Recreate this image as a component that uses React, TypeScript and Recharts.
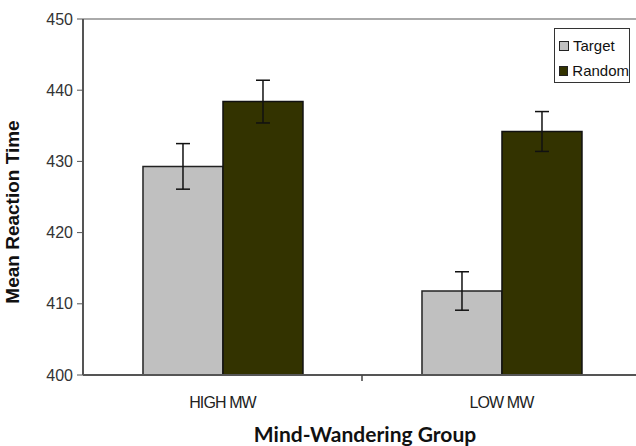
import React from 'react';
import { BarChart, Bar, XAxis, YAxis, ErrorBar, ReferenceLine, Label } from 'recharts';

const GROUPS = ['HIGH MW', 'LOW MW'];
const TARGET = [429.3, 411.8];
const TARGET_ERR = [3.2, 2.7];
const RANDOM = [438.4, 434.2];
const RANDOM_ERR = [3.0, 2.8];
const Y_TICKS = [400, 410, 420, 430, 440, 450];
const SERIES = [
  { name: 'Target', color: '#c0c0c0' },
  { name: 'Random', color: '#333300' },
];

const data = GROUPS.map((g, i) => ({
  group: g,
  target: TARGET[i],
  targetErr: TARGET_ERR[i],
  random: RANDOM[i],
  randomErr: RANDOM_ERR[i],
}));

const AXIS_FONT = '"Liberation Sans", Arial, sans-serif';

const XTick = (props: any) => {
  const { x, y, payload, index } = props;
  const off = payload.offset || 0;
  return (
    <g>
      <text x={x} y={y + 25} textAnchor="middle" fontFamily={AXIS_FONT} fontSize={16} letterSpacing={-0.9} fill="#222">
        {payload.value}
      </text>
      {index === 0 && <line x1={x + off} x2={x + off} y1={y - 8} y2={y - 2} stroke="#444" strokeWidth={1.5} />}
    </g>
  );
};

// legend drawn outside the chart so it does not shrink the plot area
const LegendBox = () => (
  <div
    style={{
      position: 'absolute',
      left: 554,
      top: 28,
      border: '1px solid #333',
      background: '#fff',
      width: 76,
      height: 55,
      boxSizing: 'border-box',
      fontFamily: AXIS_FONT,
      fontSize: 15,
      color: '#111',
      padding: '4px 0 0 4px',
    }}
  >
    {SERIES.map((s) => (
      <div key={s.name} style={{ display: 'flex', alignItems: 'center', height: 25 }}>
        <span style={{ display: 'inline-block', width: 8, height: 8, background: s.color, border: '1px solid #222', marginRight: 4 }} />
        <span>{s.name}</span>
      </div>
    ))}
  </div>
);

export default function App() {
  return (
    <div style={{ position: 'absolute', left: 0, top: 0, background: '#fff', width: 636, height: 446 }}>
      <BarChart
        width={636}
        height={446}
        data={data}
        margin={{ top: 19, right: -5, bottom: 0, left: 0 }}
        barCategoryGap="21.5%"
        barGap={0}
      >
        <ReferenceLine y={450} stroke="#aaa" strokeWidth={2} />
        <XAxis
          dataKey="group"
          height={71}
          tickLine={false}
          axisLine={{ stroke: '#555', strokeWidth: 2 }}
          tick={<XTick />}
          interval={0}
        >
          <Label
            value="Mind-Wandering Group"
            position="insideBottom"
            offset={4}
            dx={3}
            style={{ fontFamily: 'Lato, "Open Sans", sans-serif', fontWeight: 700, fontSize: 21, fill: '#111' }}
          />
        </XAxis>
        <YAxis
          width={83}
          domain={[400, 450]}
          ticks={Y_TICKS}
          interval={0}
          allowDataOverflow
          tickSize={6}
          tickMargin={4}
          tickLine={{ stroke: '#555' }}
          axisLine={{ stroke: '#555', strokeWidth: 2 }}
          tick={{ fontFamily: AXIS_FONT, fontSize: 16, fill: '#333' }}
        >
          <Label
            value="Mean Reaction Time"
            angle={-90}
            position="insideLeft"
            offset={12}
            dy={15}
            style={{ textAnchor: 'middle', fontFamily: AXIS_FONT, fontWeight: 700, fontSize: 19, fill: '#111' }}
          />
        </YAxis>
        <Bar dataKey="target" name="Target" fill="#c0c0c0" stroke="#222" strokeWidth={1.5} isAnimationActive={false}>
          <ErrorBar dataKey="targetErr" width={7} stroke="#111" strokeWidth={1.5} />
        </Bar>
        <Bar dataKey="random" name="Random" fill="#333300" stroke="#111" strokeWidth={1.5} isAnimationActive={false}>
          <ErrorBar dataKey="randomErr" width={7} stroke="#111" strokeWidth={1.5} />
        </Bar>
      </BarChart>
      <LegendBox />
    </div>
  );
}
